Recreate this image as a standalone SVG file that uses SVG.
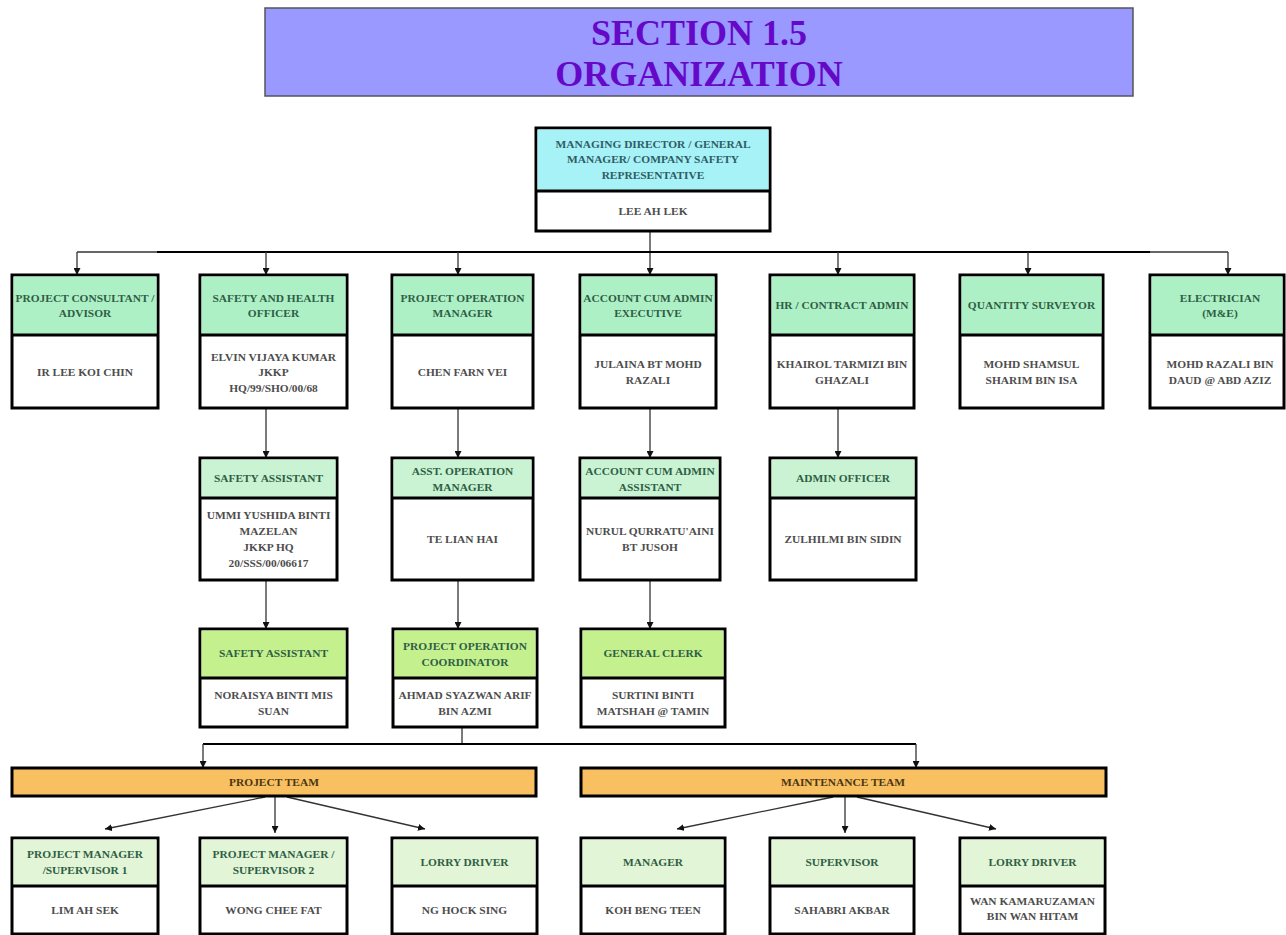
<svg xmlns="http://www.w3.org/2000/svg" width="1286" height="935" viewBox="0 0 1286 935">
<style>
.box{fill:#fff;stroke:#000;stroke-width:3}
.div{stroke:#000;stroke-width:3}
.h0{fill:#a6f2f6}
.h1{fill:#aef0c6}
.h2{fill:#c9f3d3}
.h3{fill:#c4f08e}
.h4{fill:#e2f5d6}
.team{fill:#f8c060;stroke:#000;stroke-width:3}
text{font-family:"Liberation Serif","Times New Roman",serif;font-weight:bold;font-size:11.4px;text-anchor:middle}
.ht{fill:#2f5e44}
.ct{fill:#2f5c66}
.nt{fill:#4d4d4d}
.tt{fill:#4a3614}
.title{fill:#6608c8;font-size:36px}
.con{stroke:#333;stroke-width:1.3;fill:none}
.thick{stroke:#000;stroke-width:2.2;fill:none}
</style>
<defs>
<marker id="ah" viewBox="0 0 10 10" refX="10" refY="5" markerWidth="7" markerHeight="7" markerUnits="userSpaceOnUse" orient="auto">
<path d="M0,0 L10,5 L0,10 z" fill="#111"/>
</marker>
</defs>

<g id="title">
<rect x="265" y="8" width="868" height="88" fill="#9999ff" stroke="#555" stroke-width="1.5"/>
<text class="title" x="699" y="45">SECTION 1.5</text>
<text class="title" x="699" y="86">ORGANIZATION</text>
</g>

<g id="connectors">
<line class="con" x1="650" y1="231" x2="650" y2="275" marker-end="url(#ah)"/>
<line class="con" x1="77" y1="252" x2="157" y2="252"/>
<line class="thick" x1="157" y1="252" x2="1150" y2="252"/>
<line class="con" x1="1150" y1="252" x2="1228" y2="252"/>
<line class="con" x1="77" y1="252" x2="77" y2="275" marker-end="url(#ah)"/>
<line class="con" x1="266" y1="252" x2="266" y2="275" marker-end="url(#ah)"/>
<line class="con" x1="458" y1="252" x2="458" y2="275" marker-end="url(#ah)"/>
<line class="con" x1="838" y1="252" x2="838" y2="275" marker-end="url(#ah)"/>
<line class="con" x1="1028" y1="252" x2="1028" y2="275" marker-end="url(#ah)"/>
<line class="con" x1="1228" y1="252" x2="1228" y2="275" marker-end="url(#ah)"/>
<line class="con" x1="266" y1="408" x2="266" y2="458" marker-end="url(#ah)"/>
<line class="con" x1="458" y1="408" x2="458" y2="458" marker-end="url(#ah)"/>
<line class="con" x1="650" y1="408" x2="650" y2="458" marker-end="url(#ah)"/>
<line class="con" x1="838" y1="408" x2="838" y2="458" marker-end="url(#ah)"/>
<line class="con" x1="266" y1="580" x2="266" y2="629" marker-end="url(#ah)"/>
<line class="con" x1="458" y1="580" x2="458" y2="629" marker-end="url(#ah)"/>
<line class="con" x1="650" y1="580" x2="650" y2="629" marker-end="url(#ah)"/>
<line class="con" x1="462" y1="727" x2="462" y2="744"/>
<line class="thick" x1="203" y1="744" x2="916" y2="744"/>
<line class="con" x1="203" y1="744" x2="203" y2="768" marker-end="url(#ah)"/>
<line class="con" x1="916" y1="744" x2="916" y2="768" marker-end="url(#ah)"/>
<line class="con" x1="265" y1="797" x2="105" y2="829" marker-end="url(#ah)"/>
<line class="con" x1="275" y1="797" x2="275" y2="833" marker-end="url(#ah)"/>
<line class="con" x1="287" y1="797" x2="425" y2="829" marker-end="url(#ah)"/>
<line class="con" x1="833" y1="797" x2="677" y2="829" marker-end="url(#ah)"/>
<line class="con" x1="845" y1="797" x2="845" y2="833" marker-end="url(#ah)"/>
<line class="con" x1="857" y1="797" x2="996" y2="829" marker-end="url(#ah)"/>
</g>

<g id="md">
<rect class="box" x="536" y="128" width="234" height="103"/>
<rect class="h0" x="537.5" y="129.5" width="231" height="61.5"/>
<line class="div" x1="536" y1="191" x2="770" y2="191"/>
<text class="ct" x="653" y="148">MANAGING DIRECTOR / GENERAL</text>
<text class="ct" x="653" y="163">MANAGER/ COMPANY SAFETY</text>
<text class="ct" x="653" y="179">REPRESENTATIVE</text>
<text class="nt" x="653" y="215">LEE AH LEK</text>
</g>

<g id="consultant">
<rect class="box" x="12" y="275" width="146" height="133"/>
<rect class="h1" x="13.5" y="276.5" width="143" height="58.5"/>
<line class="div" x1="12" y1="335" x2="158" y2="335"/>
<text class="ht" x="85" y="302">PROJECT CONSULTANT /</text>
<text class="ht" x="85" y="317">ADVISOR</text>
<text class="nt" x="85" y="376">IR LEE KOI CHIN</text>
</g>

<g id="sho">
<rect class="box" x="200" y="275" width="147" height="133"/>
<rect class="h1" x="201.5" y="276.5" width="144" height="58.5"/>
<line class="div" x1="200" y1="335" x2="347" y2="335"/>
<text class="ht" x="273.5" y="302">SAFETY AND HEALTH</text>
<text class="ht" x="273.5" y="317">OFFICER</text>
<text class="nt" x="273.5" y="361">ELVIN VIJAYA KUMAR</text>
<text class="nt" x="273.5" y="376">JKKP</text>
<text class="nt" x="273.5" y="392">HQ/99/SHO/00/68</text>
</g>

<g id="pom">
<rect class="box" x="392" y="275" width="141" height="133"/>
<rect class="h1" x="393.5" y="276.5" width="138" height="58.5"/>
<line class="div" x1="392" y1="335" x2="533" y2="335"/>
<text class="ht" x="462.5" y="302">PROJECT OPERATION</text>
<text class="ht" x="462.5" y="317">MANAGER</text>
<text class="nt" x="462.5" y="376">CHEN FARN VEI</text>
</g>

<g id="ace">
<rect class="box" x="580" y="275" width="136" height="133"/>
<rect class="h1" x="581.5" y="276.5" width="133" height="58.5"/>
<line class="div" x1="580" y1="335" x2="716" y2="335"/>
<text class="ht" x="648" y="302">ACCOUNT CUM ADMIN</text>
<text class="ht" x="648" y="317">EXECUTIVE</text>
<text class="nt" x="648" y="368">JULAINA BT MOHD</text>
<text class="nt" x="648" y="384">RAZALI</text>
</g>

<g id="hr">
<rect class="box" x="770" y="275" width="144" height="133"/>
<rect class="h1" x="771.5" y="276.5" width="141" height="58.5"/>
<line class="div" x1="770" y1="335" x2="914" y2="335"/>
<text class="ht" x="842" y="309">HR / CONTRACT ADMIN</text>
<text class="nt" x="842" y="368">KHAIROL TARMIZI BIN</text>
<text class="nt" x="842" y="384">GHAZALI</text>
</g>

<g id="qs">
<rect class="box" x="960" y="275" width="143" height="133"/>
<rect class="h1" x="961.5" y="276.5" width="140" height="58.5"/>
<line class="div" x1="960" y1="335" x2="1103" y2="335"/>
<text class="ht" x="1031.5" y="309">QUANTITY SURVEYOR</text>
<text class="nt" x="1031.5" y="368">MOHD SHAMSUL</text>
<text class="nt" x="1031.5" y="384">SHARIM BIN ISA</text>
</g>

<g id="electrician">
<rect class="box" x="1150" y="275" width="134" height="133"/>
<rect class="h1" x="1151.5" y="276.5" width="131" height="58.5"/>
<line class="div" x1="1150" y1="335" x2="1284" y2="335"/>
<text class="ht" x="1220" y="302">ELECTRICIAN</text>
<text class="ht" x="1220" y="317">(M&amp;E)</text>
<text class="nt" x="1220" y="368">MOHD RAZALI BIN</text>
<text class="nt" x="1220" y="384">DAUD @ ABD AZIZ</text>
</g>

<g id="sa1">
<rect class="box" x="200" y="458" width="137" height="122"/>
<rect class="h2" x="201.5" y="459.5" width="134" height="38.5"/>
<line class="div" x1="200" y1="498" x2="337" y2="498"/>
<text class="ht" x="268.5" y="482">SAFETY ASSISTANT</text>
<text class="nt" x="268.5" y="519">UMMI YUSHIDA BINTI</text>
<text class="nt" x="268.5" y="535">MAZELAN</text>
<text class="nt" x="268.5" y="551">JKKP HQ</text>
<text class="nt" x="268.5" y="567">20/SSS/00/06617</text>
</g>

<g id="aom">
<rect class="box" x="392" y="458" width="141" height="122"/>
<rect class="h2" x="393.5" y="459.5" width="138" height="38.5"/>
<line class="div" x1="392" y1="498" x2="533" y2="498"/>
<text class="ht" x="462.5" y="475">ASST. OPERATION</text>
<text class="ht" x="462.5" y="491">MANAGER</text>
<text class="nt" x="462.5" y="543">TE LIAN HAI</text>
</g>

<g id="aca">
<rect class="box" x="580" y="458" width="140" height="122"/>
<rect class="h2" x="581.5" y="459.5" width="137" height="38.5"/>
<line class="div" x1="580" y1="498" x2="720" y2="498"/>
<text class="ht" x="650" y="475">ACCOUNT CUM ADMIN</text>
<text class="ht" x="650" y="491">ASSISTANT</text>
<text class="nt" x="650" y="535">NURUL QURRATU'AINI</text>
<text class="nt" x="650" y="551">BT JUSOH</text>
</g>

<g id="ao">
<rect class="box" x="770" y="458" width="146" height="122"/>
<rect class="h2" x="771.5" y="459.5" width="143" height="38.5"/>
<line class="div" x1="770" y1="498" x2="916" y2="498"/>
<text class="ht" x="843" y="482">ADMIN OFFICER</text>
<text class="nt" x="843" y="543">ZULHILMI BIN SIDIN</text>
</g>

<g id="sa2">
<rect class="box" x="200" y="629" width="147" height="98"/>
<rect class="h3" x="201.5" y="630.5" width="144" height="47.5"/>
<line class="div" x1="200" y1="678" x2="347" y2="678"/>
<text class="ht" x="273.5" y="657">SAFETY ASSISTANT</text>
<text class="nt" x="273.5" y="699">NORAISYA BINTI MIS</text>
<text class="nt" x="273.5" y="715">SUAN</text>
</g>

<g id="poc">
<rect class="box" x="393" y="629" width="144" height="98"/>
<rect class="h3" x="394.5" y="630.5" width="141" height="47.5"/>
<line class="div" x1="393" y1="678" x2="537" y2="678"/>
<text class="ht" x="465" y="650">PROJECT OPERATION</text>
<text class="ht" x="465" y="666">COORDINATOR</text>
<text class="nt" x="465" y="699">AHMAD SYAZWAN ARIF</text>
<text class="nt" x="465" y="715">BIN AZMI</text>
</g>

<g id="clerk">
<rect class="box" x="581" y="629" width="144" height="98"/>
<rect class="h3" x="582.5" y="630.5" width="141" height="47.5"/>
<line class="div" x1="581" y1="678" x2="725" y2="678"/>
<text class="ht" x="653" y="657">GENERAL CLERK</text>
<text class="nt" x="653" y="699">SURTINI BINTI</text>
<text class="nt" x="653" y="715">MATSHAH @ TAMIN</text>
</g>

<g id="project-team">
<rect class="team" x="12" y="768" width="524" height="28"/>
<text class="tt" x="274" y="786">PROJECT TEAM</text>
</g>

<g id="maintenance-team">
<rect class="team" x="581" y="768" width="525" height="28"/>
<text class="tt" x="843" y="786">MAINTENANCE TEAM</text>
</g>

<g id="pm1">
<rect class="box" x="12" y="838" width="146" height="96"/>
<rect class="h4" x="13.5" y="839.5" width="143" height="46.5"/>
<line class="div" x1="12" y1="886" x2="158" y2="886"/>
<text class="ht" x="85" y="858">PROJECT MANAGER</text>
<text class="ht" x="85" y="874">/SUPERVISOR  1</text>
<text class="nt" x="85" y="914">LIM AH SEK</text>
</g>

<g id="pm2">
<rect class="box" x="200" y="838" width="147" height="96"/>
<rect class="h4" x="201.5" y="839.5" width="144" height="46.5"/>
<line class="div" x1="200" y1="886" x2="347" y2="886"/>
<text class="ht" x="273.5" y="858">PROJECT MANAGER /</text>
<text class="ht" x="273.5" y="874">SUPERVISOR 2</text>
<text class="nt" x="273.5" y="914">WONG CHEE FAT</text>
</g>

<g id="lorry1">
<rect class="box" x="392" y="838" width="145" height="96"/>
<rect class="h4" x="393.5" y="839.5" width="142" height="46.5"/>
<line class="div" x1="392" y1="886" x2="537" y2="886"/>
<text class="ht" x="464.5" y="866">LORRY DRIVER</text>
<text class="nt" x="464.5" y="914">NG HOCK SING</text>
</g>

<g id="manager">
<rect class="box" x="581" y="838" width="144" height="96"/>
<rect class="h4" x="582.5" y="839.5" width="141" height="46.5"/>
<line class="div" x1="581" y1="886" x2="725" y2="886"/>
<text class="ht" x="653" y="866">MANAGER</text>
<text class="nt" x="653" y="914">KOH BENG TEEN</text>
</g>

<g id="supervisor">
<rect class="box" x="770" y="838" width="144" height="96"/>
<rect class="h4" x="771.5" y="839.5" width="141" height="46.5"/>
<line class="div" x1="770" y1="886" x2="914" y2="886"/>
<text class="ht" x="842" y="866">SUPERVISOR</text>
<text class="nt" x="842" y="914">SAHABRI AKBAR</text>
</g>

<g id="lorry2">
<rect class="box" x="960" y="838" width="145" height="96"/>
<rect class="h4" x="961.5" y="839.5" width="142" height="46.5"/>
<line class="div" x1="960" y1="886" x2="1105" y2="886"/>
<text class="ht" x="1032.5" y="866">LORRY DRIVER</text>
<text class="nt" x="1032.5" y="905">WAN KAMARUZAMAN</text>
<text class="nt" x="1032.5" y="920">BIN WAN HITAM</text>
</g>
</svg>
